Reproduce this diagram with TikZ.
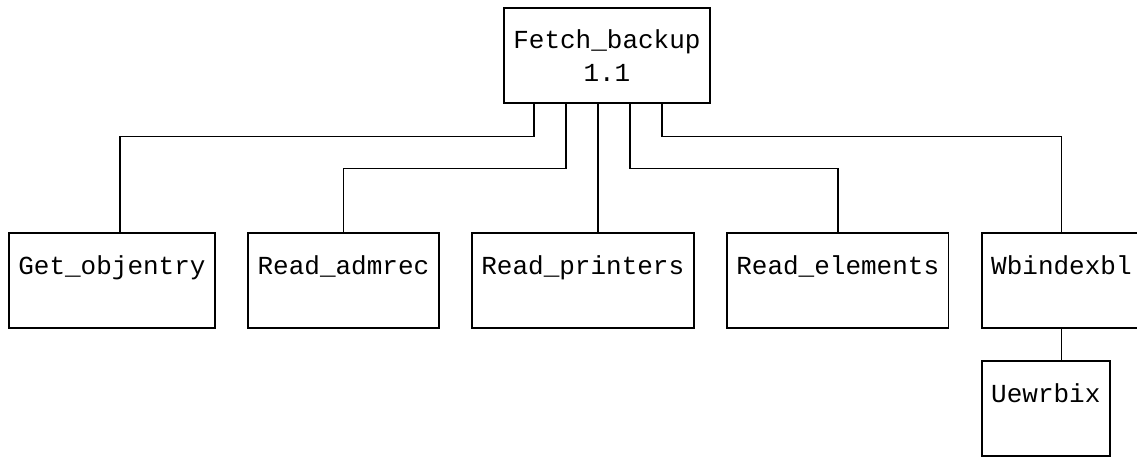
\documentclass[tikz,border=0pt]{standalone}
\usepackage{fontspec}
\setmonofont{Liberation Mono}
\usetikzlibrary{positioning}

\tikzset{
	box/.style={draw, line width=1.6pt, inner xsep=9.5pt, minimum height=95pt,
		font=\ttfamily\fontsize{26}{33}\selectfont},
	leaf/.style={box, text height=20pt, text depth=32pt},
}

\begin{document}
\begin{tikzpicture}[x=1pt, y=-1pt, line width=1.6pt, node distance=31.5pt]
	\useasboundingbox (0,0) rectangle (1137,457);

	\node[box, align=center, anchor=north west] (fetch) at (503,7) {Fetch\_backup\\1.1};

	\node[leaf, anchor=north west] (get) at (8,232) {Get\_objentry};
	\node[leaf, right=of get] (admrec) {Read\_admrec};
	\node[leaf, right=of admrec] (printers) {Read\_printers};
	\node[leaf, right=of printers] (elements) {Read\_elements};
	\node[leaf, right=of elements] (wb) {Wbindexbl};
	\node[leaf, below=of wb.south west, anchor=north west] (uewrbix) {Uewrbix};

	\draw ([xshift=31pt]fetch.south west) -- ++(0,33) -| ([xshift=8pt]get.north);
	\draw ([xshift=63pt]fetch.south west) -- ++(0,65) -| (admrec.north);
	\draw ([xshift=95pt]fetch.south west) -- ([xshift=95pt]fetch.south west |- printers.north);
	\draw ([xshift=127pt]fetch.south west) -- ++(0,65) -| (elements.north);
	\draw ([xshift=159pt]fetch.south west) -- ++(0,33) -| (wb.north);
	\draw (wb.south) -- (wb.south |- uewrbix.north);
\end{tikzpicture}
\end{document}
